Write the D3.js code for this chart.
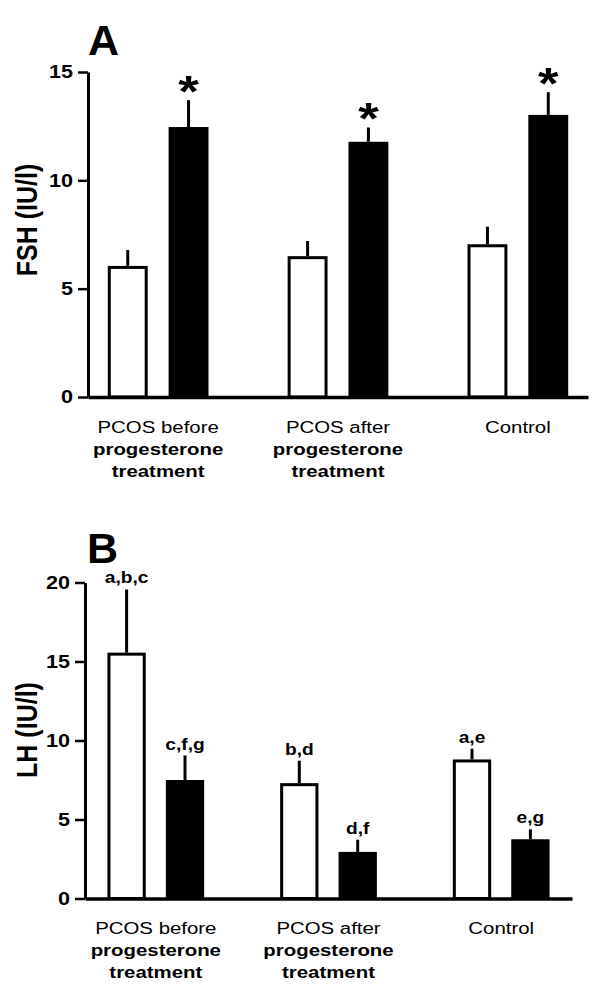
<!DOCTYPE html>
<html><head><meta charset="utf-8">
<script src="https://cdn.jsdelivr.net/npm/d3@7"></script>
<style>
body{margin:0;background:#fff}
svg{display:block}
text{font-family:"Liberation Sans",Arial,Helvetica,sans-serif;fill:#000}
</style>
</head><body>
<script>
// ---------- data ----------
const groups = ["PCOS before progesterone treatment", "PCOS after progesterone treatment", "Control"];
const groupLabelLines = [["PCOS before", "progesterone", "treatment"], ["PCOS after", "progesterone", "treatment"], ["Control"]];
const seriesKeys = ["white", "black"];

const fshWhite = [6.05, 6.5, 7.05];
const fshWhiteErr = [0.73, 0.7, 0.81];
const fshBlack = [12.46, 11.78, 13.02];
const fshBlackErr = [1.24, 0.66, 1.05];
const fshWhiteNotes = ["", "", ""];
const fshBlackNotes = ["*", "*", "*"];
const fshTicks = [0, 5, 10, 15];

const lhWhite = [15.56, 7.3, 8.8];
const lhWhiteErr = [4.0, 1.42, 0.68];
const lhBlack = [7.5, 2.95, 3.75];
const lhBlackErr = [1.55, 0.77, 0.63];
const lhWhiteNotes = ["a,b,c", "b,d", "a,e"];
const lhBlackNotes = ["c,f,g", "d,f", "e,g"];
const lhTicks = [0, 5, 10, 15, 20];

// ---------- drawing ----------
const W = 600, H = 996;
const svg = d3.select("body").append("svg").attr("width", W).attr("height", H);
svg.append("rect").attr("width", W).attr("height", H).attr("fill", "#fff");

const panels = [
  {letter: "A", letterX: 88, letterY: 55, title: "FSH (IU/l)", titleY: 220,
   xl: 88, xr: 588, y0: 397, yTop: 72, max: 15, po: 0.11, ticks: fshTicks,
   white: fshWhite, whiteErr: fshWhiteErr, black: fshBlack, blackErr: fshBlackErr,
   whiteNotes: fshWhiteNotes, blackNotes: fshBlackNotes, star: true},
  {letter: "B", letterX: 87, letterY: 563, title: "LH (IU/l)", titleY: 730,
   xl: 85, xr: 572, y0: 898.5, yTop: 582.5, max: 20, po: 0.13, ticks: lhTicks,
   white: lhWhite, whiteErr: lhWhiteErr, black: lhBlack, blackErr: lhBlackErr,
   whiteNotes: lhWhiteNotes, blackNotes: lhBlackNotes, star: false}
];

panels.forEach(p => {
  const g = svg.append("g");
  const y = d3.scaleLinear().domain([0, p.max]).range([p.y0, p.yTop]);
  const x0 = d3.scaleBand().domain(groups).range([p.xl, p.xr]).paddingInner(0.44).paddingOuter(p.po);
  const x1 = d3.scaleBand().domain(seriesKeys).range([0, x0.bandwidth()]).paddingInner(0.344);

  const rows = [];
  groups.forEach((grp, i) => {
    rows.push({grp, s: "white", v: p.white[i], e: p.whiteErr[i], note: p.whiteNotes[i]});
    rows.push({grp, s: "black", v: p.black[i], e: p.blackErr[i], note: p.blackNotes[i]});
  });
  const sw = 3;

  // bars
  g.selectAll("rect.bar").data(rows).join("rect")
    .attr("class", "bar")
    .attr("x", d => x0(d.grp) + x1(d.s) + (d.s === "white" ? sw / 2 : 0))
    .attr("width", d => x1.bandwidth() - (d.s === "white" ? sw : 0))
    .attr("y", d => y(d.v) + (d.s === "white" ? sw / 2 : 0))
    .attr("height", d => y(0) - y(d.v) - (d.s === "white" ? sw / 2 : 0))
    .attr("fill", d => d.s === "white" ? "#fff" : "#000")
    .attr("stroke", d => d.s === "white" ? "#000" : "none")
    .attr("stroke-width", sw);

  // error bars
  g.selectAll("line.err").data(rows).join("line")
    .attr("class", "err")
    .attr("x1", d => x0(d.grp) + x1(d.s) + x1.bandwidth() / 2)
    .attr("x2", d => x0(d.grp) + x1(d.s) + x1.bandwidth() / 2)
    .attr("y1", d => y(d.v))
    .attr("y2", d => y(d.v + d.e))
    .attr("stroke", "#000").attr("stroke-width", 3);

  // annotations
  const notes = rows.filter(d => d.note);
  g.selectAll("text.note").data(notes).join("text")
    .attr("class", "note")
    .attr("text-anchor", "middle")
    .attr("transform", d => {
      const cx = x0(d.grp) + x1(d.s) + x1.bandwidth() / 2;
      const by = p.star ? y(d.v + d.e) + 7 : y(d.v + d.e) - 6;
      return `translate(${cx},${by}) scale(1.2,1)`;
    })
    .style("font-weight", "bold")
    .style("font-size", p.star ? "44px" : "16px")
    .text(d => d.note);

  // y axis
  const ya = g.append("g").attr("transform", `translate(${p.xl},0)`)
    .call(d3.axisLeft(y).tickValues(p.ticks).tickSize(10).tickSizeOuter(0).tickPadding(3));
  ya.select(".domain").attr("stroke", "#000").attr("stroke-width", 3);
  ya.selectAll(".tick line").attr("stroke", "#000").attr("stroke-width", 2.5);
  ya.selectAll(".tick text")
    .attr("x", -12.5)
    .attr("transform", "scale(1.2,1)")
    .style("font-size", "18px").style("font-weight", "bold")
    .attr("fill", "#000");

  // x axis
  const xa = g.append("g").attr("transform", `translate(0,${p.y0})`)
    .call(d3.axisBottom(x0).tickSize(0).tickSizeOuter(0).tickFormat(""));
  xa.select(".domain").attr("stroke", "#000").attr("stroke-width", 3.5);
  xa.selectAll(".tick text").each(function(d) {
    const t = d3.select(this);
    const lines = groupLabelLines[groups.indexOf(d)];
    t.attr("y", 0).attr("dy", null).attr("transform", "scale(1.2,1)")
      .style("font-size", "17px").attr("fill", "#000");
    const offs = [36, 58, 80];
    lines.forEach((ln, k) => {
      t.append("tspan").attr("x", 0).attr("y", offs[k])
        .style("font-weight", k === 0 ? "normal" : "bold")
        .text(ln);
    });
  });

  // panel letter
  g.append("text").attr("x", p.letterX).attr("y", p.letterY)
    .style("font-size", "43px").style("font-weight", "bold").text(p.letter);

  // y title
  g.append("text")
    .attr("transform", `translate(37,${p.titleY}) rotate(-90) scale(1,1.2)`)
    .attr("text-anchor", "middle")
    .style("font-size", "25px").style("font-weight", "bold")
    .text(p.title);
});
</script>
</body></html>
